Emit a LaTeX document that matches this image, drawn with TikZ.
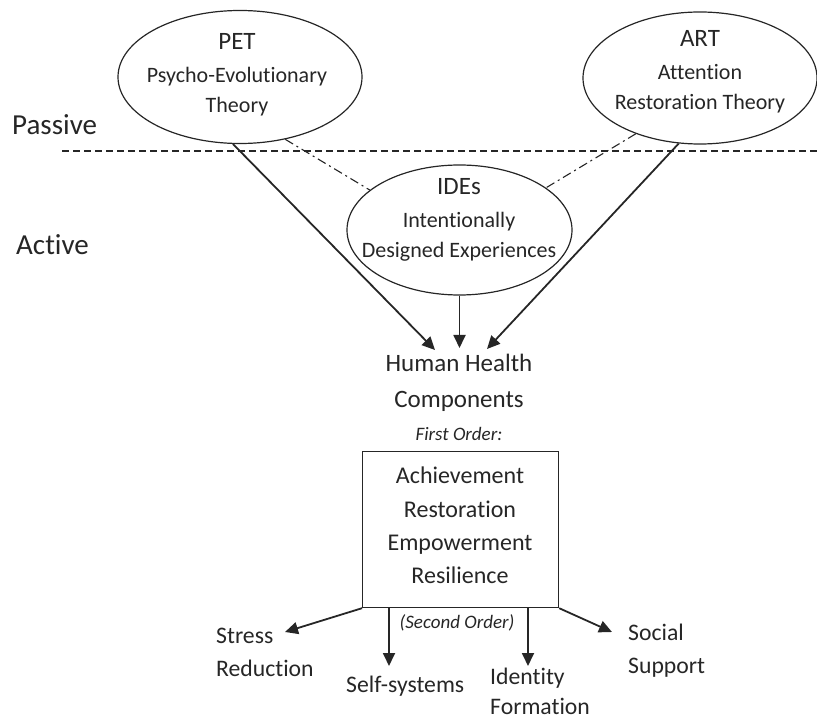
\documentclass[tikz,border=0pt]{standalone}
\usepackage{fontspec}
\setmainfont[Ligatures={NoCommon,NoContextual}]{Carlito}
\usetikzlibrary{shapes.geometric,arrows.meta}
\definecolor{ink}{HTML}{262626}
\tikzset{
  oval/.style={draw=ink, line width=1.2pt, ellipse, inner sep=0pt},
  txt/.style={text=ink, anchor=base, inner sep=0pt, font=\fontsize{22}{26}\selectfont},
  ttl/.style={text=ink, anchor=base, inner sep=0pt, font=\fontsize{25}{28}\selectfont},
  mid/.style={text=ink, anchor=base, inner sep=0pt, font=\fontsize{24}{28}\selectfont},
  big/.style={text=ink, anchor=base west, inner sep=0pt, font=\fontsize{29}{32}\selectfont},
  lft/.style={text=ink, anchor=base west, inner sep=0pt, font=\fontsize{23.7}{26}\selectfont},
  ital/.style={text=ink, anchor=base, inner sep=0pt, font=\fontsize{19}{22}\selectfont\itshape},
  arr/.style={draw=ink, line width=1.8pt, -{Triangle[length=13pt,width=12pt]}},
  link/.style={draw=ink, line width=1.1pt, dash pattern=on 9pt off 4pt on 2pt off 4pt},
}
\begin{document}
\begin{tikzpicture}[x=1pt,y=-1pt]
\useasboundingbox (0,0) rectangle (817,719);
% ellipses
\node[oval, minimum width=244pt, minimum height=133pt] (pet) at (240,77) {};
\node[oval, minimum width=234pt, minimum height=132pt] (art) at (700,78) {};
\node[oval, minimum width=225pt, minimum height=130pt] (ide) at (459.5,230) {};
% ellipse texts
\node[ttl] (petA) at (237,50) {PET};
\node[txt] (petB) at (237,83) {Psycho-Evolutionary};
\node[txt] (petC) at (237,113) {Theory};
\node[ttl] (artA) at (700,47) {ART};
\node[txt] (artB) at (700,80) {Attention};
\node[txt] (artC) at (700,110) {Restoration Theory};
\node[ttl] (ideA) at (459,195) {IDEs};
\node[txt] (ideB) at (459,228) {Intentionally};
\node[txt] (ideC) at (459,258) {Designed Experiences};
% passive / active
\node[big] (passive) at (12,135) {Passive};
\node[big] (active) at (16,255) {Active};
\coordinate (dl) at (62,151);
\coordinate (dr) at (817,151);
\draw[ink, line width=1.1pt, dash pattern=on 7pt off 4pt] (dl) -- (dr);
% dash-dot links
\draw[link] (pet.-54) -- (ide.156);
\draw[link] (art.221) -- (ide.26);
% human health
\node[ttl] (hh) at (459,371) {Human Health};
\node[ttl] (comp) at (459,407) {Components};
\node[ital] (first) at (459,440) {First Order:};
\coordinate (tipL) at (435,350);
\coordinate (tipM) at (459.5,348);
\coordinate (tipR) at (487,349);
\draw[arr] (pet.264) -- (tipL);
\draw[arr] (ide.south) -- (tipM);
\draw[arr] (art.252) -- (tipR);
% box
\node[draw=ink, line width=1.2pt, minimum width=196pt, minimum height=156pt, inner sep=0pt, anchor=north west] (box) at (362,451) {};
\node[mid] (b1) at (460,483) {Achievement};
\node[mid] (b2) at (460,517) {Restoration};
\node[mid] (b3) at (460,550) {Empowerment};
\node[mid] (b4) at (460,583) {Resilience};
\node[ital] (second) at (457,628) {(Second Order)};
% second order arrows
\coordinate (s1) at (389,607);
\coordinate (s2) at (528,607);
\coordinate (e0) at (285,632);
\coordinate (e1) at (389,666);
\coordinate (e2) at (528,666);
\coordinate (e3) at (612,632);
\draw[arr] (box.south west) -- (e0);
\draw[arr] (s1) -- (e1);
\draw[arr] (s2) -- (e2);
\draw[arr] (box.south east) -- (e3);
% bottom labels
\node[lft] (st1) at (216,643) {Stress};
\node[lft] (st2) at (216,676) {Reduction};
\node[lft] (ss) at (346,692) {Self-systems};
\node[lft] (id1) at (490,684) {Identity};
\node[lft] (id2) at (490,714) {Formation};
\node[lft] (so1) at (628,640) {Social};
\node[lft] (so2) at (628,673) {Support};
\end{tikzpicture}
\end{document}
